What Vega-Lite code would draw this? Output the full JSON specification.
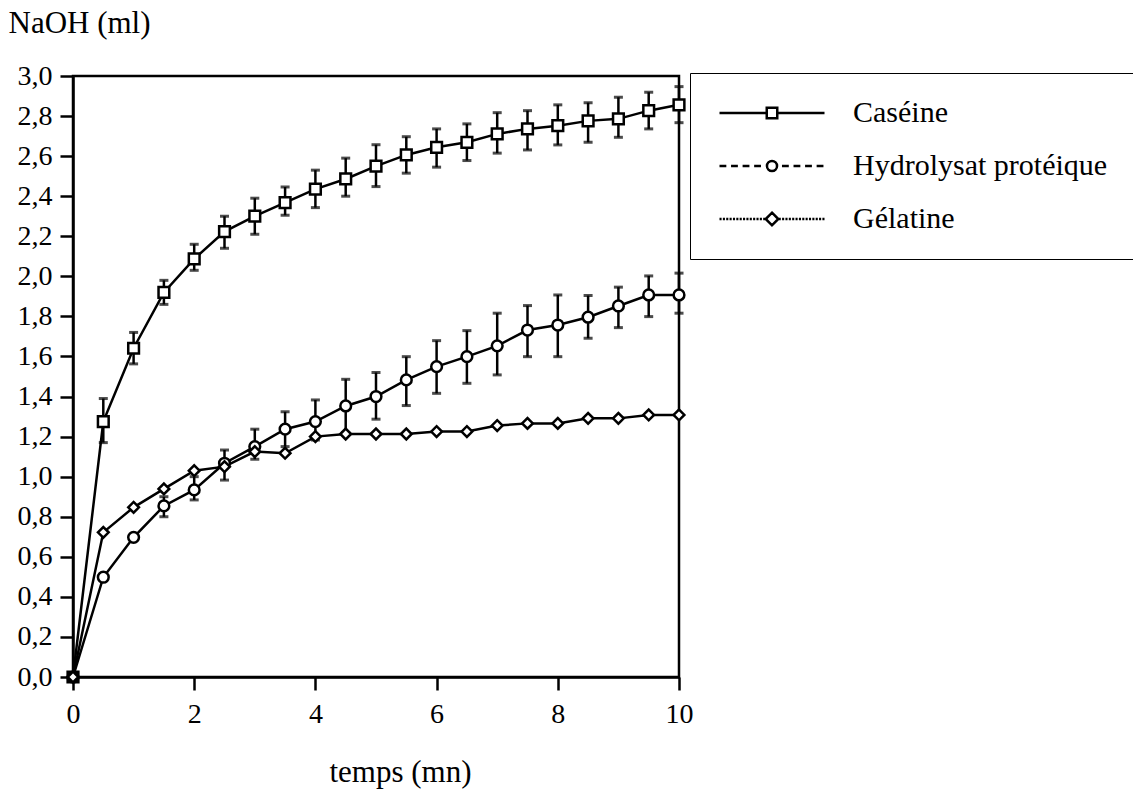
{
  "$schema": "https://vega.github.io/schema/vega-lite/v6.json",
  "width": 606,
  "height": 601,
  "autosize": {"type": "none"},
  "padding": {"left": 73, "top": 76, "right": 454, "bottom": 112},
  "background": "white",
  "config": {
    "view": {"stroke": "black", "strokeWidth": 2.5},
    "font": "Liberation Serif",
    "axis": {
      "grid": false,
      "domainColor": "black",
      "domainWidth": 2.5,
      "tickColor": "black",
      "tickWidth": 2.5,
      "tickSize": 13,
      "labelFont": "Liberation Serif",
      "labelFontSize": 28,
      "labelColor": "black",
      "labelFlush": false,
      "labelOverlap": false,
      "labelBound": false,
      "titleFont": "Liberation Serif",
      "titleFontSize": 31,
      "titleFontWeight": "normal",
      "titleColor": "black"
    },
    "legend": {"labelFont": "Liberation Serif", "titleFont": "Liberation Serif"}
  },
  "datasets": {
    "pts": [
      {"series": "Caséine", "t": 0, "v": 0},
      {"series": "Caséine", "t": 0.5, "v": 1.275},
      {"series": "Caséine", "t": 1, "v": 1.641},
      {"series": "Caséine", "t": 1.5, "v": 1.92},
      {"series": "Caséine", "t": 2, "v": 2.087},
      {"series": "Caséine", "t": 2.5, "v": 2.223},
      {"series": "Caséine", "t": 3, "v": 2.3},
      {"series": "Caséine", "t": 3.5, "v": 2.368},
      {"series": "Caséine", "t": 4, "v": 2.435},
      {"series": "Caséine", "t": 4.5, "v": 2.486},
      {"series": "Caséine", "t": 5, "v": 2.55},
      {"series": "Caséine", "t": 5.5, "v": 2.606},
      {"series": "Caséine", "t": 6, "v": 2.644},
      {"series": "Caséine", "t": 6.5, "v": 2.669},
      {"series": "Caséine", "t": 7, "v": 2.711},
      {"series": "Caséine", "t": 7.5, "v": 2.736},
      {"series": "Caséine", "t": 8, "v": 2.752},
      {"series": "Caséine", "t": 8.5, "v": 2.776},
      {"series": "Caséine", "t": 9, "v": 2.786},
      {"series": "Caséine", "t": 9.5, "v": 2.827},
      {"series": "Caséine", "t": 10, "v": 2.856},
      {"series": "Hydrolysat protéique", "t": 0, "v": 0},
      {"series": "Hydrolysat protéique", "t": 0.5, "v": 0.498},
      {"series": "Hydrolysat protéique", "t": 1, "v": 0.697},
      {"series": "Hydrolysat protéique", "t": 1.5, "v": 0.854},
      {"series": "Hydrolysat protéique", "t": 2, "v": 0.934},
      {"series": "Hydrolysat protéique", "t": 2.5, "v": 1.067},
      {"series": "Hydrolysat protéique", "t": 3, "v": 1.15},
      {"series": "Hydrolysat protéique", "t": 3.5, "v": 1.237},
      {"series": "Hydrolysat protéique", "t": 4, "v": 1.275},
      {"series": "Hydrolysat protéique", "t": 4.5, "v": 1.353},
      {"series": "Hydrolysat protéique", "t": 5, "v": 1.4},
      {"series": "Hydrolysat protéique", "t": 5.5, "v": 1.483},
      {"series": "Hydrolysat protéique", "t": 6, "v": 1.549},
      {"series": "Hydrolysat protéique", "t": 6.5, "v": 1.599},
      {"series": "Hydrolysat protéique", "t": 7, "v": 1.653},
      {"series": "Hydrolysat protéique", "t": 7.5, "v": 1.732},
      {"series": "Hydrolysat protéique", "t": 8, "v": 1.757},
      {"series": "Hydrolysat protéique", "t": 8.5, "v": 1.796},
      {"series": "Hydrolysat protéique", "t": 9, "v": 1.852},
      {"series": "Hydrolysat protéique", "t": 9.5, "v": 1.907},
      {"series": "Hydrolysat protéique", "t": 10, "v": 1.907},
      {"series": "Gélatine", "t": 0, "v": 0},
      {"series": "Gélatine", "t": 0.5, "v": 0.722},
      {"series": "Gélatine", "t": 1, "v": 0.847},
      {"series": "Gélatine", "t": 1.5, "v": 0.939},
      {"series": "Gélatine", "t": 2, "v": 1.03},
      {"series": "Gélatine", "t": 2.5, "v": 1.05},
      {"series": "Gélatine", "t": 3, "v": 1.125},
      {"series": "Gélatine", "t": 3.5, "v": 1.117},
      {"series": "Gélatine", "t": 4, "v": 1.2},
      {"series": "Gélatine", "t": 4.5, "v": 1.213},
      {"series": "Gélatine", "t": 5, "v": 1.213},
      {"series": "Gélatine", "t": 5.5, "v": 1.213},
      {"series": "Gélatine", "t": 6, "v": 1.225},
      {"series": "Gélatine", "t": 6.5, "v": 1.225},
      {"series": "Gélatine", "t": 7, "v": 1.255},
      {"series": "Gélatine", "t": 7.5, "v": 1.266},
      {"series": "Gélatine", "t": 8, "v": 1.266},
      {"series": "Gélatine", "t": 8.5, "v": 1.291},
      {"series": "Gélatine", "t": 9, "v": 1.291},
      {"series": "Gélatine", "t": 9.5, "v": 1.308},
      {"series": "Gélatine", "t": 10, "v": 1.308}
    ],
    "err": [
      {"series": "Caséine", "t": 0.5, "lo": 1.17, "hi": 1.39},
      {"series": "Caséine", "t": 1, "lo": 1.563, "hi": 1.72},
      {"series": "Caséine", "t": 1.5, "lo": 1.86, "hi": 1.98},
      {"series": "Caséine", "t": 2, "lo": 2.03, "hi": 2.16},
      {"series": "Caséine", "t": 2.5, "lo": 2.14, "hi": 2.3},
      {"series": "Caséine", "t": 3, "lo": 2.21, "hi": 2.39},
      {"series": "Caséine", "t": 3.5, "lo": 2.305, "hi": 2.446},
      {"series": "Caséine", "t": 4, "lo": 2.343, "hi": 2.53},
      {"series": "Caséine", "t": 4.5, "lo": 2.4, "hi": 2.59},
      {"series": "Caséine", "t": 5, "lo": 2.448, "hi": 2.657},
      {"series": "Caséine", "t": 5.5, "lo": 2.515, "hi": 2.697},
      {"series": "Caséine", "t": 6, "lo": 2.545, "hi": 2.736},
      {"series": "Caséine", "t": 6.5, "lo": 2.578, "hi": 2.761},
      {"series": "Caséine", "t": 7, "lo": 2.615, "hi": 2.817},
      {"series": "Caséine", "t": 7.5, "lo": 2.631, "hi": 2.827},
      {"series": "Caséine", "t": 8, "lo": 2.656, "hi": 2.856},
      {"series": "Caséine", "t": 8.5, "lo": 2.669, "hi": 2.867},
      {"series": "Caséine", "t": 9, "lo": 2.694, "hi": 2.894},
      {"series": "Caséine", "t": 9.5, "lo": 2.736, "hi": 2.919},
      {"series": "Caséine", "t": 10, "lo": 2.767, "hi": 2.947},
      {"series": "Hydrolysat protéique", "t": 1.5, "lo": 0.8, "hi": 0.9},
      {"series": "Hydrolysat protéique", "t": 2, "lo": 0.884, "hi": 1.0},
      {"series": "Hydrolysat protéique", "t": 2.5, "lo": 0.983, "hi": 1.133},
      {"series": "Hydrolysat protéique", "t": 3, "lo": 1.087, "hi": 1.237},
      {"series": "Hydrolysat protéique", "t": 3.5, "lo": 1.15, "hi": 1.324},
      {"series": "Hydrolysat protéique", "t": 4, "lo": 1.183, "hi": 1.383},
      {"series": "Hydrolysat protéique", "t": 4.5, "lo": 1.22, "hi": 1.486},
      {"series": "Hydrolysat protéique", "t": 5, "lo": 1.287, "hi": 1.52},
      {"series": "Hydrolysat protéique", "t": 5.5, "lo": 1.355, "hi": 1.599},
      {"series": "Hydrolysat protéique", "t": 6, "lo": 1.416, "hi": 1.679},
      {"series": "Hydrolysat protéique", "t": 6.5, "lo": 1.466, "hi": 1.729},
      {"series": "Hydrolysat protéique", "t": 7, "lo": 1.508, "hi": 1.816},
      {"series": "Hydrolysat protéique", "t": 7.5, "lo": 1.599, "hi": 1.854},
      {"series": "Hydrolysat protéique", "t": 8, "lo": 1.599, "hi": 1.907},
      {"series": "Hydrolysat protéique", "t": 8.5, "lo": 1.691, "hi": 1.904},
      {"series": "Hydrolysat protéique", "t": 9, "lo": 1.744, "hi": 1.946},
      {"series": "Hydrolysat protéique", "t": 9.5, "lo": 1.799, "hi": 2.002},
      {"series": "Hydrolysat protéique", "t": 10, "lo": 1.816, "hi": 2.016}
    ]
  },
  "layer": [
    {
      "data": {"name": "pts"},
      "mark": {"type": "line", "color": "black", "strokeWidth": 2.5},
      "encoding": {
        "x": {
          "field": "t", "type": "quantitative",
          "scale": {"domain": [0, 10], "nice": false, "zero": false},
          "axis": {
            "values": [0, 2, 4, 6, 8, 10],
            "labelExpr": "format(datum.value, 'd')",
            "labelPadding": 10,
            "title": "temps (mn)",
            "titleAlign": "center",
            "titleBaseline": "alphabetic",
            "titleX": 327,
            "titleY": 104
          }
        },
        "y": {
          "field": "v", "type": "quantitative",
          "scale": {"domain": [0, 3], "nice": false, "zero": false},
          "axis": {
            "values": [0, 0.2, 0.4, 0.6, 0.8, 1, 1.2, 1.4, 1.6, 1.8, 2, 2.2, 2.4, 2.6, 2.8, 3],
            "labelExpr": "replace(format(datum.value, '.1f'), '.', ',')",
            "labelPadding": 8,
            "title": "NaOH (ml)",
            "titleAngle": 0,
            "titleAlign": "left",
            "titleBaseline": "alphabetic",
            "titleX": -65,
            "titleY": -44
          }
        },
        "detail": {"field": "series"}
      }
    },
    {
      "data": {"name": "err"},
      "mark": {"type": "rule", "color": "black", "strokeWidth": 2.5},
      "encoding": {
        "x": {"field": "t", "type": "quantitative"},
        "y": {"field": "lo", "type": "quantitative"},
        "y2": {"field": "hi"}
      }
    },
    {
      "data": {"name": "err"},
      "mark": {"type": "tick", "orient": "horizontal", "color": "black", "size": 9, "thickness": 3},
      "encoding": {
        "x": {"field": "t", "type": "quantitative"},
        "y": {"field": "lo", "type": "quantitative"}
      }
    },
    {
      "data": {"name": "err"},
      "mark": {"type": "tick", "orient": "horizontal", "color": "black", "size": 9, "thickness": 3},
      "encoding": {
        "x": {"field": "t", "type": "quantitative"},
        "y": {"field": "hi", "type": "quantitative"}
      }
    },
    {
      "data": {"name": "pts"},
      "mark": {"type": "point", "fill": "white", "stroke": "black", "strokeWidth": 2.5, "size": 115, "opacity": 1, "fillOpacity": 1},
      "encoding": {
        "x": {"field": "t", "type": "quantitative"},
        "y": {"field": "v", "type": "quantitative"},
        "shape": {
          "field": "series", "type": "nominal",
          "scale": {"domain": ["Caséine", "Hydrolysat protéique", "Gélatine"], "range": ["square", "circle", "diamond"]},
          "legend": null
        }
      }
    },
    {
      "data": {"name": "pts"},
      "transform": [{"filter": "datum.t < -1"}],
      "mark": {"type": "point", "fill": "white", "stroke": "black", "strokeWidth": 2.5, "opacity": 1, "size": 441},
      "encoding": {
        "x": {"field": "t", "type": "quantitative"},
        "y": {"field": "v", "type": "quantitative"},
        "shape": {
          "field": "series", "type": "nominal",
          "scale": {
            "domain": ["Caséine", "Hydrolysat protéique", "Gélatine"],
            "range": [
              "M-1,0H3.5M4.5,0H9M3.5,-0.5H4.5V0.5H3.5Z",
              "M-1,0H-0.35M0.1,0H0.75M1.2,0H1.85M2.3,0H2.95M4.95,0H5.6M6.05,0H6.7M7.15,0H7.8M8.25,0H8.9M3.52,0A0.48,0.48,0,1,0,4.48,0A0.48,0.48,0,1,0,3.52,0Z",
              "M-1,0H-0.8M-0.68,0H-0.48M-0.36,0H-0.16M-0.04,0H0.16M0.28,0H0.48M0.6,0H0.8M0.92,0H1.12M1.24,0H1.44M1.56,0H1.76M1.88,0H2.08M2.2,0H2.4M2.52,0H2.72M2.84,0H3.04M3.16,0H3.36M4.64,0H4.84M4.96,0H5.16M5.28,0H5.48M5.6,0H5.8M5.92,0H6.12M6.24,0H6.44M6.56,0H6.76M6.88,0H7.08M7.2,0H7.4M7.52,0H7.72M7.84,0H8.04M8.16,0H8.36M8.48,0H8.68M8.8,0H9M4,-0.6L4.6,0L4,0.6L3.4,0Z"
            ]
          },
          "legend": {
            "title": null,
            "orient": "none",
            "legendX": 617,
            "legendY": -3,
            "direction": "vertical",
            "padding": 25,
            "strokeColor": "black",
            "fillColor": "white",
            "symbolSize": 441,
            "symbolStrokeWidth": 2.5,
            "labelFont": "Liberation Serif",
            "labelFontSize": 30,
            "labelColor": "black",
            "labelOffset": 108,
            "labelLimit": 400,
            "rowPadding": 23,
            "encode": {
              "legend": {"update": {"strokeWidth": {"value": 2.5}}}
            }
          }
        }
      }
    }
  ],
  "resolve": {"scale": {"shape": "independent"}}
}
